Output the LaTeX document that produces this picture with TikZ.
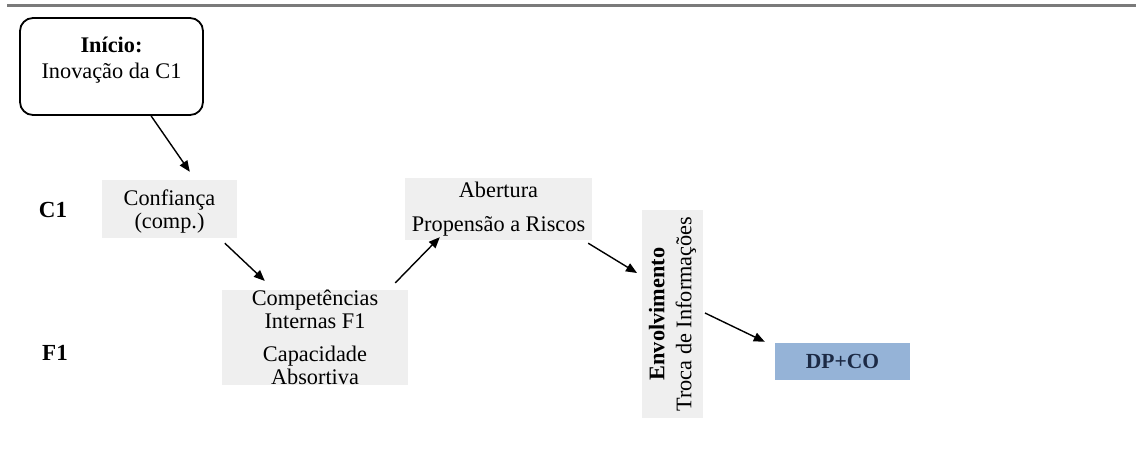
\documentclass[tikz,border=0pt]{standalone}
\usepackage{fontspec}
\setmainfont{Liberation Serif}
\usetikzlibrary{arrows.meta,calc}
\definecolor{boxgray}{HTML}{EFEFEF}
\definecolor{dpblue}{HTML}{95B3D7}
\definecolor{dpink}{HTML}{1C2A45}
\definecolor{rulegray}{HTML}{7A7A7A}
\begin{document}
\begin{tikzpicture}[x=1pt,y=-1pt,
  txt/.style={font=\fontsize{22.3}{23}\selectfont, align=center, inner sep=0pt},
  graybox/.style={txt, fill=boxgray, draw=none},
  startbox/.style={draw=black, line width=1.8pt, rounded corners=13pt, fill=white},
  rowlabel/.style={font=\fontsize{23}{24}\selectfont\bfseries, inner sep=0pt},
  flow/.style={line width=1.4pt, -{Triangle[length=11pt,width=9pt]}}]
\useasboundingbox (0,0) rectangle (1136,455);

% header rule
\draw[rulegray, line width=3pt] (7,5) -- (1136,5);

% start box
\node[startbox, minimum width=183pt, minimum height=97pt] (start) at (111.5,66.5) {};
\node[txt] (starttxt) at (111.5,60) {\textbf{Início:}\\[3pt]Inovação da C1};

% row labels
\node[rowlabel] (lc1) at (53,210) {C1};
\node[rowlabel] (lf1) at (55,353) {F1};

% process boxes
\node[graybox, minimum width=135pt, minimum height=58pt] (conf) at (169.5,209) {};
\node[txt] (conftxt) at (169.5,212) {Confiança\\(comp.)};
\node[graybox, minimum width=186pt, minimum height=91pt] (comp) at (315,337.5)
  {Competências\\Internas F1\\[10pt]Capacidade\\Absortiva};
\node[graybox, minimum width=187pt, minimum height=62pt] (aber) at (498.5,209)
  {Abertura\\[11pt]Propensão a Riscos};
\node[graybox, minimum width=208pt, minimum height=61pt, rotate=90] (env) at (672.5,314)
  {\textbf{Envolvimento}\\[4pt]Troca de Informações};
\node[txt, fill=dpblue, minimum width=135pt, minimum height=37pt,
  font=\fontsize{21.5}{23}\selectfont\bfseries, text=dpink] (dpco) at (842.5,361.5) {DP+CO};

% connectors
\draw[flow] ($(start.south west)+(132,0)$) -- ($(conf.north west)+(88,-8)$);
\draw[flow] ($(conf.south west)+(123,5)$) -- ($(comp.north west)+(43,-9)$);
\draw[flow] ($(comp.north east)+(-13,-7)$) -- ($(aber.south west)+(35,-3)$);
\draw[flow] ($(aber.south east)+(-4,3)$) -- ($(env.center)+(-35.5,-41)$);
\draw[flow] ($(env.center)+(32.5,-1)$) -- ($(dpco.north west)+(-10,-1)$);
\end{tikzpicture}
\end{document}
